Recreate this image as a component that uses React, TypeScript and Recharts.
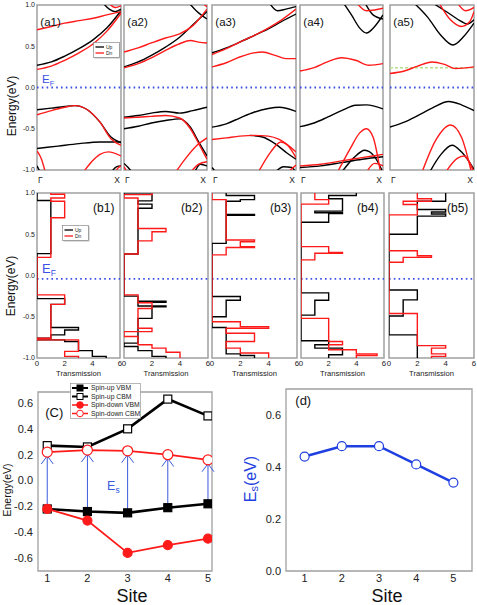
import React from 'react';
import { LineChart, Line, XAxis, YAxis, ReferenceLine, ReferenceArea, ReferenceDot, Legend } from 'recharts';

const FONT = '"Liberation Sans", Arial, Helvetica, sans-serif';
const RED = '#ff1a1a';
const BLACK = '#000000';
const EF_BLUE = '#3a50e6';
const LINE_BLUE = '#1f3fe0';
const ARROW = '#3b5bdb';
const FRAME = '#a0a0a0';

// ---------- panel (a): band structures, each band = list of [k (Γ=0 … X=1), E (eV)]
const a1Up = [
  [[0, 0.27], [0.17, 0.31], [0.33, 0.38], [0.5, 0.47], [0.67, 0.58], [0.83, 0.72], [1, 0.93]],
  [[0.78, 1.03], [0.86, 0.95], [0.93, 0.92], [1, 0.95]],
  [[0, -0.27], [0.17, -0.25], [0.33, -0.23], [0.45, -0.22], [0.6, -0.27], [0.75, -0.42], [0.88, -0.6], [1, -0.67]],
  [[0, -0.74], [0.25, -0.71], [0.5, -0.68], [0.75, -0.66], [1, -0.66]],
  [[0, -0.95], [0.04, -1.03]],
  [[0.88, -1.03], [0.95, -0.96], [1, -0.95]],
];
const a1Dn = [
  [[0, 0.22], [0.17, 0.26], [0.33, 0.33], [0.5, 0.42], [0.67, 0.53], [0.83, 0.68], [1, 0.9]],
  [[0, 0.7], [0.17, 0.74], [0.33, 0.78], [0.5, 0.81], [0.67, 0.84], [0.83, 0.88], [1, 0.92]],
  [[0.85, 1.03], [0.93, 0.97], [1, 0.99]],
  [[0, -0.33], [0.17, -0.28], [0.33, -0.24], [0.45, -0.22], [0.6, -0.27], [0.75, -0.42], [0.88, -0.62], [1, -0.7]],
  [[0, -0.77], [0.05, -0.86], [0.1, -1.03]],
  [[0.55, -1.03], [0.65, -0.9], [0.75, -0.81], [0.85, -0.78], [1, -0.83]],
  [[0.93, -1.03], [0.97, -0.97], [1, -0.95]],
];
const a2Up = [
  [[0, 0.25], [0.17, 0.31], [0.33, 0.39], [0.5, 0.49], [0.67, 0.61], [0.83, 0.76], [1, 0.92]],
  [[0.78, 1.03], [0.88, 0.92], [1, 0.83]],
  [[0, -0.36], [0.17, -0.34], [0.33, -0.31], [0.5, -0.29], [0.67, -0.31], [0.83, -0.28], [1, -0.24]],
  [[0, -0.5], [0.17, -0.47], [0.33, -0.43], [0.5, -0.4], [0.67, -0.38], [0.8, -0.48], [0.9, -0.66], [1, -0.83]],
  [[0, -0.92], [0.05, -0.97], [0.1, -1.03]],
  [[0.85, -1.03], [0.92, -0.93], [1, -0.95]],
];
const a2Dn = [
  [[0, 0.24], [0.17, 0.29], [0.33, 0.36], [0.5, 0.45], [0.67, 0.53], [0.8, 0.57], [0.9, 0.55], [1, 0.54]],
  [[0, 0.43], [0.17, 0.48], [0.33, 0.54], [0.5, 0.6], [0.67, 0.65], [0.83, 0.75], [1, 0.95]],
  [[0.93, 1.03], [1, 0.98]],
  [[0, -0.37], [0.17, -0.36], [0.33, -0.35], [0.5, -0.34], [0.67, -0.37], [0.8, -0.5], [0.9, -0.68], [1, -0.87]],
  [[0.62, -1.03], [0.75, -0.85], [0.88, -0.7], [1, -0.61]],
  [[0.8, -1.03], [0.9, -0.93], [1, -0.9]],
  [[0, -0.96], [0.04, -1.03]],
];
const a3Up = [
  [[0, 0.42], [0.17, 0.48], [0.33, 0.55], [0.5, 0.63], [0.67, 0.71], [0.83, 0.8], [1, 0.89]],
  [[0.68, 1.03], [0.78, 0.93], [0.88, 0.95], [1, 0.98]],
  [[0, -0.48], [0.17, -0.44], [0.33, -0.37], [0.5, -0.3], [0.67, -0.255], [0.8, -0.24], [1, -0.29]],
  [[0.45, -0.58], [0.6, -0.6], [0.75, -0.68], [0.9, -0.8], [1, -0.87]],
  [[0, -0.97], [0.05, -1.03]],
  [[0.75, -1.03], [0.85, -0.96], [0.95, -0.97], [1, -1.03]],
];
const a3Dn = [
  [[0, 0.4], [0.17, 0.47], [0.33, 0.55], [0.5, 0.63], [0.67, 0.72], [0.83, 0.82], [1, 0.95]],
  [[0, 0.25], [0.17, 0.3], [0.33, 0.37], [0.5, 0.42], [0.6, 0.43], [0.75, 0.39], [0.88, 0.35], [1, 0.35]],
  [[0, -0.63], [0.17, -0.61], [0.33, -0.59], [0.5, -0.58], [0.67, -0.59], [0.8, -0.63], [1, -0.78]],
  [[0.55, -1.03], [0.7, -0.78], [0.82, -0.66], [0.9, -0.7], [1, -0.85]],
  [[0.9, -1.03], [1, -0.94]],
];
const a4Up = [
  [[0.52, 1.03], [0.62, 0.88], [0.72, 0.72], [0.8, 0.66], [0.9, 0.74], [1, 0.88]],
  [[0.78, 1.03], [0.88, 0.88], [1, 0.83]],
  [[0, -0.475], [0.17, -0.43], [0.33, -0.36], [0.5, -0.28], [0.67, -0.215], [0.8, -0.21], [1, -0.26]],
  [[0, -0.97], [0.25, -0.95], [0.5, -0.91], [0.75, -0.87], [1, -0.84]],
  [[0.5, -1.03], [0.65, -0.85], [0.78, -0.76], [0.9, -0.84], [1, -1.03]],
];
const a4Dn = [
  [[0, 0.2], [0.17, 0.24], [0.33, 0.31], [0.5, 0.36], [0.67, 0.33], [0.83, 0.27], [1, 0.29]],
  [[0.68, 1.03], [0.8, 0.93], [0.9, 0.94], [1, 0.96]],
  [[0.45, -1.03], [0.6, -0.75], [0.72, -0.55], [0.8, -0.5], [0.88, -0.6], [0.97, -1.03]],
  [[0, -0.95], [0.25, -0.93], [0.5, -0.89], [0.75, -0.85], [1, -0.81]],
  [[0.8, -1.03], [0.9, -0.92], [1, -0.95]],
];
const a5Up = [
  [[0.28, 1.03], [0.45, 0.85], [0.6, 0.64], [0.75, 0.515], [0.88, 0.62], [1, 0.78]],
  [[0.5, 1.03], [0.7, 0.9], [0.85, 0.8], [0.92, 0.77], [1, 0.82]],
  [[0, -0.48], [0.17, -0.42], [0.33, -0.34], [0.5, -0.25], [0.7, -0.17], [0.85, -0.21], [1, -0.28]],
  [[0.47, -1.03], [0.6, -0.82], [0.74, -0.7], [0.85, -0.78], [1, -0.99]],
];
const a5Dn = [
  [[0, 0.17], [0.17, 0.2], [0.33, 0.26], [0.5, 0.31], [0.65, 0.28], [0.78, 0.23], [1, 0.25]],
  [[0.58, 1.03], [0.72, 0.82], [0.85, 0.74], [0.95, 0.8], [1, 0.92]],
  [[0.8, 1.03], [0.9, 0.93], [1, 0.97]],
  [[0.38, -1.03], [0.55, -0.63], [0.72, -0.455], [0.85, -0.6], [0.97, -1.03]],
  [[0.66, -1.03], [0.8, -0.86], [0.88, -0.83], [1, -1.03]],
];
const a5Level = 0.24;
const aLabels = ['(a1)', '(a2)', '(a3)', '(a4)', '(a5)'];
const aUp = [a1Up, a2Up, a3Up, a4Up, a5Up];
const aDn = [a1Dn, a2Dn, a3Dn, a4Dn, a5Dn];

// ---------- panel (b): transmission step functions (energy boundaries, transmission per interval)
const b1UpE = [1.0, 0.91, 0.265, -0.28, -0.35, -0.63, -0.66, -0.72, -0.76, -0.78, -0.8, -0.91, -0.98, -1.0];
const b1UpT = [0, 1, 0, 2, 1, 3, 2, 1, 0, 2, 3, 4, 5];
const b1DnE = [1.0, 0.985, 0.94, 0.9, 0.7, 0.22, -0.235, -0.35, -0.76, -0.78, -0.92, -0.98, -1.0];
const b1DnT = [1, 2, 1, 2, 1, 0, 2, 1, 0, 3, 2, 3];
const b2UpE = [1.0, 0.985, 0.905, 0.865, 0.815, 0.26, -0.25, -0.31, -0.325, -0.37, -0.38, -0.52, -0.82, -0.86, -0.91, -0.98, -1.0];
const b2UpT = [0, 2, 1, 2, 1, 0, 1, 3, 1, 3, 2, 1, 0, 1, 2, 3];
const b2DnE = [1.0, 0.98, 0.94, 0.57, 0.53, 0.42, 0.26, -0.235, -0.33, -0.4, -0.64, -0.68, -0.74, -0.84, -0.88, -0.93, -1.0];
const b2DnT = [2, 0, 1, 3, 2, 1, 0, 1, 2, 1, 2, 0, 1, 2, 3, 4];
const b3UpE = [1.0, 0.97, 0.92, 0.9, 0.74, 0.73, 0.39, -0.255, -0.3, -0.5, -0.63, -0.95, -0.97, -1.0];
const b3UpT = [1, 3, 2, 1, 3, 1, 0, 2, 1, 0, 1, 2, 3];
const b3DnE = [1.0, 0.92, 0.43, 0.41, 0.35, 0.34, 0.25, -0.56, -0.62, -0.64, -0.7, -0.8, -0.88, -0.94, -1.0];
const b3DnT = [0, 1, 3, 2, 3, 1, 0, 2, 4, 1, 3, 1, 2, 4];
const b4UpE = [1.0, 0.97, 0.93, 0.78, 0.76, 0.75, 0.645, -0.21, -0.3, -0.48, -0.79, -0.84, -0.88, -0.96, -1.0];
const b4UpT = [4, 2, 3, 1, 3, 2, 0, 2, 1, 0, 2, 1, 3, 2];
const b4DnE = [1.0, 0.92, 0.865, 0.35, 0.28, 0.27, 0.19, -0.52, -0.8, -0.84, -0.9, -0.95, -0.97, -1.0];
const b4DnT = [1, 2, 0, 2, 3, 1, 0, 2, 3, 2, 4, 5.5, 4];
const b5UpE = [1.0, 0.9, 0.8, 0.77, 0.745, 0.72, 0.5, -0.175, -0.295, -0.49, -0.72, -1.0];
const b5UpT = [4, 2, 4, 3, 4, 2, 0, 2, 1, 0, 2];
const b5DnE = [1.0, 0.93, 0.9, 0.86, 0.735, 0.3, 0.24, 0.22, 0.16, -0.46, -0.85, -0.88, -0.95, -0.98, -1.0];
const b5DnT = [2, 3, 1, 2, 0, 2, 3, 1, 0, 2, 4, 3, 4, 3];
const bLabels = ['(b1)', '(b2)', '(b3)', '(b4)', '(b5)'];
const bUp = [[b1UpE, b1UpT], [b2UpE, b2UpT], [b3UpE, b3UpT], [b4UpE, b4UpT], [b5UpE, b5UpT]];
const bDn = [[b1DnE, b1DnT], [b2DnE, b2DnT], [b3DnE, b3DnT], [b4DnE, b4DnT], [b5DnE, b5DnT]];
const bFermi = -0.04;
const transTicks = [0, 2, 4, 6];
const energyTicks = [-1, -0.5, 0, 0.5, 1];

// ---------- panel (c) and (d)
const sites = [1, 2, 3, 4, 5];
const upVBM = [-0.22, -0.24, -0.25, -0.21, -0.18];
const upCBM = [0.27, 0.26, 0.4, 0.63, 0.5];
const dnVBM = [-0.22, -0.31, -0.56, -0.5, -0.45];
const dnCBM = [0.22, 0.235, 0.23, 0.2, 0.16];
const esGap = [0.44, 0.48, 0.48, 0.41, 0.34];
const cTicks = [-0.6, -0.4, -0.2, 0, 0.2, 0.4, 0.6];
const dTicks = [0, 0.2, 0.4, 0.6];

const cData = sites.map((s, i) => ({ site: s, upV: upVBM[i], upC: upCBM[i], dnV: dnVBM[i], dnC: dnCBM[i] }));
const dData = sites.map((s, i) => ({ site: s, es: esGap[i] }));

// ---------- layout (pixel extents of the plot frames)
const aBoxes = [[37, 121], [124, 207], [212, 296], [300, 383], [390, 474]];
const bBoxes = [[37, 120], [124, 208], [212, 297], [301, 384], [389, 474]];

const fmt1 = (v: number) => v.toFixed(1);
const toPts = (band: number[][]) => band.map(([k, e]) => ({ k, e }));
const stepPts = (E: number[], T: number[]) => {
  const pts: { t: number; e: number }[] = [];
  for (let i = 0; i < T.length; i++) {
    pts.push({ t: T[i], e: E[i] });
    pts.push({ t: T[i], e: E[i + 1] });
  }
  return pts;
};

const txt = (content: React.ReactNode, size: number, color: string, anchor: string = 'start') => (p: any) => (
  <text x={p.cx} y={p.cy} fontSize={size} fill={color} fontFamily={FONT} textAnchor={anchor}>{content}</text>
);

const energyLabel = (dx: number, dy: number, size: number) => (props: any) => {
  const vb = props.viewBox || { x: 0, y: 0 };
  const cx = vb.x + dx;
  const cy = vb.y + dy;
  return (
    <text x={cx} y={cy} transform={`rotate(-90 ${cx} ${cy})`} textAnchor="middle" dominantBaseline="central" fontSize={size} fontFamily={FONT} fill="#111">Energy(eV)</text>
  );
};

const KTick = (p: any) => {
  const v = p.payload.value;
  return (
    <text x={v === 0 ? p.x + 1 : p.x - 1} y={p.y + 4.5} textAnchor={v === 0 ? 'start' : 'end'} fontSize={8.5} fontFamily={FONT} fill="#222">
      {v === 0 ? 'Γ' : 'X'}
    </text>
  );
};

const transLabel = (props: any) => {
  const vb = props.viewBox || { x: 0, y: 0, width: 0 };
  return <text x={vb.x + vb.width / 2} y={vb.y + 18} textAnchor="middle" fontSize={7.6} fontFamily={FONT} fill="#222">Transmission</text>;
};

const siteLabel = (dx: number) => (props: any) => {
  const vb = props.viewBox || { x: 0, y: 0, width: 0 };
  return <text x={vb.x + vb.width / 2 + dx} y={vb.y + 30.5} textAnchor="middle" fontSize={18} fontFamily={FONT} fill="#111">Site</text>;
};

const esLabel = (props: any) => {
  const vb = props.viewBox || { x: 0, y: 0 };
  const cx = vb.x + 13;
  const cy = 479 - 380;
  return (
    <text x={cx} y={cy} transform={`rotate(-90 ${cx} ${cy})`} textAnchor="middle" dominantBaseline="central" fontSize={16} fontFamily={FONT} fill={LINE_BLUE}>
      E<tspan fontSize={11} dy={4}>s</tspan><tspan dy={-4}>(eV)</tspan>
    </text>
  );
};

const UpDnLegend = () => (
  <svg width={28} height={17} style={{ display: 'block' }}>
    <rect x={1.5} y={1.5} width={26} height={15} fill="#bbb" />
    <rect x={0.5} y={0.5} width={26} height={15} fill="white" stroke="#777" strokeWidth={0.6} />
    <line x1={2.5} x2={11} y1={5} y2={5} stroke={BLACK} strokeWidth={1.3} />
    <text x={13} y={6.8} fontSize={5} fontFamily={FONT} fill="#222">Up</text>
    <line x1={2.5} x2={11} y1={11} y2={11} stroke={RED} strokeWidth={1.3} />
    <text x={13} y={12.8} fontSize={5} fontFamily={FONT} fill="#222">Dn</text>
  </svg>
);

const cLegendItems = [
  { name: 'Spin-up VBM', color: BLACK, kind: 'sq', filled: true },
  { name: 'Spin-up CBM', color: BLACK, kind: 'sq', filled: false },
  { name: 'Spin-down VBM', color: RED, kind: 'ci', filled: true },
  { name: 'Spin-down CBM', color: RED, kind: 'ci', filled: false },
];

const CLegend = () => (
  <svg width={71} height={36} style={{ display: 'block' }}>
    <rect x={0.5} y={0.5} width={70} height={35} fill="white" stroke="#888" strokeWidth={0.6} />
    {cLegendItems.map((it, i) => {
      const y = 5 + i * 8.5;
      return (
        <g key={it.name}>
          <line x1={2} x2={18} y1={y} y2={y} stroke={it.color} strokeWidth={it.kind === 'sq' ? 2 : 1.5} />
          {it.kind === 'sq' ? (
            <rect x={7} y={y - 3} width={6} height={6} fill={it.filled ? it.color : 'white'} stroke={it.color} strokeWidth={1} />
          ) : (
            <circle cx={10} cy={y} r={3.3} fill={it.filled ? it.color : 'white'} stroke={it.color} strokeWidth={1} />
          )}
          <text x={21} y={y + 2.4} fontSize={6.8} fontFamily={FONT} fill="#222">{it.name}</text>
        </g>
      );
    })}
  </svg>
);

const squareDot = (filled: boolean) => (p: any) => (
  <rect key={`s${p.index}`} x={p.cx - 4} y={p.cy - 4} width={8} height={8} fill={filled ? BLACK : 'white'} stroke={BLACK} strokeWidth={1.2} />
);
const circleDot = (filled: boolean, color: string, r: number) => (p: any) => (
  <circle key={`c${p.index}`} cx={p.cx} cy={p.cy} r={r} fill={filled ? color : 'white'} stroke={color} strokeWidth={1.2} />
);
const arrowHead = (p: any) => (
  <polyline points={`${p.cx - 6},${p.cy + 8} ${p.cx},${p.cy} ${p.cx + 6},${p.cy + 8}`} fill="none" stroke={ARROW} strokeWidth={1} />
);

const smallTick = { fontSize: 7, fill: '#222', fontFamily: FONT };
const midTick = { fontSize: 11, fill: '#222', fontFamily: FONT };

function BandPanel({ i }: { i: number }) {
  const [l, r] = aBoxes[i];
  const first = i === 0;
  const yw = first ? 37 : 0;
  return (
    <div style={{ position: 'absolute', left: l - yw, top: 0 }}>
      <LineChart width={r - l + yw} height={185} margin={{ top: 5, right: 0, bottom: 0, left: 0 }}>
        <XAxis type="number" dataKey="k" domain={[0, 1]} ticks={[0, 1]} interval={0} allowDataOverflow height={15} axisLine={false} tickLine={false} tick={<KTick />} />
        <YAxis type="number" domain={[-1, 1]} ticks={energyTicks} interval={0} allowDataOverflow hide={!first} width={yw} axisLine={false} tickLine={false} tickSize={0} tickMargin={2} tick={smallTick} tickFormatter={fmt1} label={first ? energyLabel(11.5, 101, 12) : undefined} />
        <ReferenceArea x1={0} x2={1} y1={-1} y2={1} fill="none" stroke={FRAME} strokeWidth={1.5} />
        {i === 4 && <ReferenceLine y={a5Level} stroke="#b7e08c" strokeDasharray="3 2" strokeWidth={1.6} />}
        <ReferenceLine y={0} stroke={EF_BLUE} strokeDasharray="1.6 3.2" strokeWidth={1.8} />
        {aUp[i].map((b, j) => (
          <Line key={`u${j}`} data={toPts(b)} dataKey="e" type="monotone" stroke={BLACK} strokeWidth={1.4} dot={false} isAnimationActive={false} />
        ))}
        {aDn[i].map((b, j) => (
          <Line key={`d${j}`} data={toPts(b)} dataKey="e" type="monotone" stroke={RED} strokeWidth={1.4} dot={false} isAnimationActive={false} />
        ))}
        <ReferenceDot x={0.04} y={0.745} r={0} shape={txt(aLabels[i], 11.5, '#111')} />
        {first && (
          <ReferenceDot x={0.06} y={0.05} r={0} shape={txt(<>E<tspan fontSize={7.5} dy={3}>F</tspan></>, 11.5, EF_BLUE)} />
        )}
        {first && (
          <Legend layout="vertical" align="center" verticalAlign="middle" content={() => <UpDnLegend />} wrapperStyle={{ left: 93, top: 42, width: 28, height: 17 }} />
        )}
      </LineChart>
    </div>
  );
}

function TransPanel({ i }: { i: number }) {
  const [l, r] = bBoxes[i];
  const first = i === 0;
  const yw = first ? 37 : 0;
  const [uE, uT] = bUp[i];
  const [dE, dT] = bDn[i];
  return (
    <div style={{ position: 'absolute', left: l - yw, top: 188 }}>
      <LineChart width={r - l + yw} height={192} margin={{ top: 5, right: 0, bottom: 0, left: 0 }}>
        <XAxis type="number" dataKey="t" domain={[0, 6]} ticks={transTicks} interval={0} allowDataOverflow height={22} axisLine={false} tickLine={false} tickSize={0} tickMargin={2} tick={{ fontSize: 7.8, fill: '#222', fontFamily: FONT }} label={transLabel} />
        <YAxis type="number" domain={[-1, 1]} ticks={energyTicks} interval={0} allowDataOverflow hide={!first} width={yw} axisLine={false} tickLine={false} tickSize={0} tickMargin={2} tick={smallTick} tickFormatter={fmt1} label={first ? energyLabel(11, 93, 12) : undefined} />
        <ReferenceArea x1={0} x2={6} y1={-1} y2={1} fill="none" stroke={FRAME} strokeWidth={1.5} />
        <ReferenceLine y={bFermi} stroke={EF_BLUE} strokeDasharray="1.6 3.2" strokeWidth={1.8} />
        <Line data={stepPts(uE, uT)} dataKey="e" type="linear" stroke={BLACK} strokeWidth={1.4} dot={false} isAnimationActive={false} />
        <Line data={stepPts(dE, dT)} dataKey="e" type="linear" stroke={RED} strokeWidth={1.4} dot={false} isAnimationActive={false} />
        <ReferenceDot x={5.6} y={0.77} r={0} shape={txt(bLabels[i], 12, '#111', 'end')} />
        {first && (
          <ReferenceDot x={0.36} y={0.035} r={0} shape={txt(<>E<tspan fontSize={8.5} dy={3}>F</tspan></>, 13, EF_BLUE)} />
        )}
        {first && (
          <Legend layout="vertical" align="center" verticalAlign="middle" content={() => <UpDnLegend />} wrapperStyle={{ left: 62, top: 37, width: 28, height: 17 }} />
        )}
      </LineChart>
    </div>
  );
}

function PanelC() {
  return (
    <div style={{ position: 'absolute', left: 0, top: 380 }}>
      <LineChart width={212} height={225} data={cData} margin={{ top: 12, right: 0, bottom: 0, left: 0 }}>
        <XAxis type="number" dataKey="site" domain={[0.77, 5.1]} ticks={sites} interval={0} allowDataOverflow height={34} axisLine={false} tickLine={false} tickSize={1.5} tick={midTick} label={siteLabel(7)} />
        <YAxis type="number" domain={[-0.7, 0.685]} ticks={cTicks} interval={0} allowDataOverflow width={38} axisLine={false} tickLine={false} tickSize={3} tick={midTick} tickFormatter={fmt1} label={energyLabel(7, 98, 10.5)} />
        <ReferenceArea x1={0.77} x2={5.1} y1={-0.7} y2={0.685} fill="none" stroke={FRAME} strokeWidth={1.3} />
        <Line dataKey="upV" type="linear" stroke={BLACK} strokeWidth={2.6} dot={squareDot(true)} isAnimationActive={false} />
        <Line dataKey="upC" type="linear" stroke={BLACK} strokeWidth={2.6} dot={squareDot(false)} isAnimationActive={false} />
        <Line dataKey="dnV" type="linear" stroke={RED} strokeWidth={1.8} dot={circleDot(true, RED, 4.5)} isAnimationActive={false} />
        <Line dataKey="dnC" type="linear" stroke={RED} strokeWidth={1.8} dot={circleDot(false, RED, 5)} isAnimationActive={false} />
        {sites.map((s, i) => (
          <ReferenceLine key={`ar${s}`} segment={[{ x: s, y: upVBM[i] }, { x: s, y: dnCBM[i] - 0.03 }]} stroke={ARROW} strokeWidth={1} />
        ))}
        {sites.map((s, i) => (
          <ReferenceDot key={`ah${s}`} x={s} y={dnCBM[i] - 0.03} r={0} shape={arrowHead} />
        ))}
        <ReferenceDot x={0.95} y={0.49} r={0} shape={txt('(C)', 13, '#111')} />
        <ReferenceDot x={2.49} y={-0.07} r={0} shape={txt(<>E<tspan fontSize={8.5} dy={3}>s</tspan></>, 12.5, ARROW)} />
        <Legend layout="vertical" align="center" verticalAlign="middle" content={() => <CLegend />} wrapperStyle={{ left: 70, top: 3, width: 71, height: 36 }} />
      </LineChart>
    </div>
  );
}

function PanelD() {
  return (
    <div style={{ position: 'absolute', left: 237, top: 380 }}>
      <LineChart width={235} height={225} data={dData} margin={{ top: 9, right: 0, bottom: 0, left: 0 }}>
        <XAxis type="number" dataKey="site" domain={[0.5, 5.5]} ticks={sites} interval={0} allowDataOverflow height={34} axisLine={false} tickLine={false} tickSize={1.5} tick={midTick} label={siteLabel(8)} />
        <YAxis type="number" domain={[0, 0.7]} ticks={dTicks} interval={0} allowDataOverflow width={49} axisLine={false} tickLine={false} tickSize={3} tick={midTick} tickFormatter={fmt1} label={esLabel} />
        <ReferenceArea x1={0.5} x2={5.5} y1={0} y2={0.7} fill="none" stroke={FRAME} strokeWidth={1.3} />
        <Line dataKey="es" type="linear" stroke={LINE_BLUE} strokeWidth={2.6} dot={circleDot(false, LINE_BLUE, 4.5)} isAnimationActive={false} />
        <ReferenceDot x={0.75} y={0.64} r={0} shape={txt('(d)', 13, '#111')} />
      </LineChart>
    </div>
  );
}

export default function App() {
  return (
    <div style={{ position: 'absolute', left: 0, top: 0, width: 477, height: 605, background: 'white', overflow: 'hidden' }}>
      <style>{'.recharts-surface{overflow:visible}'}</style>
      {[0, 1, 2, 3, 4].map((i) => <BandPanel key={`a${i}`} i={i} />)}
      {[0, 1, 2, 3, 4].map((i) => <TransPanel key={`b${i}`} i={i} />)}
      <PanelC />
      <PanelD />
    </div>
  );
}
